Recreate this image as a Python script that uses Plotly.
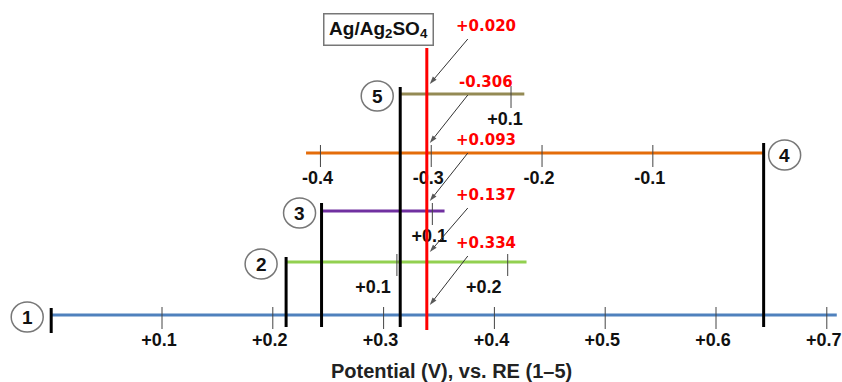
import plotly.graph_objects as go

# ---------------- data ----------------
electrodes = ["1", "2", "3", "4", "5"]
# position of each reference-electrode scale zero, in V vs RE 1
zero_vs_re1 = [0.0, 0.212, 0.244, 0.643, 0.315]
# extent of each scale, in V vs its own RE
scale_min = [0.0, 0.0, 0.0, -0.413, 0.0]
scale_max = [0.709, 0.217, 0.111, 0.0, 0.112]
tick_values = [
    [0.1, 0.2, 0.3, 0.4, 0.5, 0.6, 0.7],
    [0.1, 0.2],
    [0.1],
    [-0.4, -0.3, -0.2, -0.1],
    [0.1],
]
tick_labels = [
    ["+0.1", "+0.2", "+0.3", "+0.4", "+0.5", "+0.6", "+0.7"],
    ["+0.1", "+0.2"],
    ["+0.1"],
    ["-0.4", "-0.3", "-0.2", "-0.1"],
    ["+0.1"],
]
line_colors = ["#4F81BD", "#92D050", "#7030A0", "#E46C0A", "#948A54"]
ag_potential_vs_re1 = 0.339
ag_labels = ["+0.334", "+0.137", "+0.093", "-0.306", "+0.020"]  # vs RE 1..5
ref_name = "Ag/Ag<sub>2</sub>SO<sub>4</sub>"
axis_title = "Potential (V), vs. RE (1–5)"

# ---------------- layout helpers ----------------
W, H = 842, 382
PX_PER_V = 1108.0
X0_PX = 51.2
x_range = [-X0_PX / PX_PER_V, (W - X0_PX) / PX_PER_V]
px = 1.0 / PX_PER_V  # one pixel in V

row_y = [315, 262, 211, 153, 94]
bar_top = [308, 257, 203, 143, 87]
bar_bottom = [333, 327, 327, 327, 327]
tick_up, tick_down = 8, 14
tick_label_dy = 26
tick_label_dx = [-3, -24, -3, -3, -6]
circle_dx = [-24, -25, -22, 21, -23]
red_label_y = [243, 195, 140, 82, 26]

SANS = "Liberation Sans, Arial, sans-serif"
BLACK_FONT = dict(family=SANS, size=18, color="#111111")
RED_FONT = dict(family="DejaVu Sans, Verdana, sans-serif", size=15, color="#FF0000")

fig = go.Figure()

# coloured scale lines
for i, e in enumerate(electrodes):
    z = zero_vs_re1[i]
    fig.add_trace(go.Scatter(
        x=[z + scale_min[i], z + scale_max[i]], y=[row_y[i], row_y[i]],
        mode="lines", line=dict(color=line_colors[i], width=3),
        hoverinfo="skip", showlegend=False))

# tick marks
tx, ty = [], []
for i in range(len(electrodes)):
    z = zero_vs_re1[i]
    for v in tick_values[i]:
        tx += [z + v, z + v, None]
        ty += [row_y[i] - tick_up, row_y[i] + tick_down, None]
fig.add_trace(go.Scatter(x=tx, y=ty, mode="lines",
                         line=dict(color="#444444", width=1),
                         hoverinfo="skip", showlegend=False))

# tick labels
lx, ly, lt = [], [], []
for i in range(len(electrodes)):
    z = zero_vs_re1[i]
    for v, t in zip(tick_values[i], tick_labels[i]):
        lx.append(z + v + tick_label_dx[i] * px)
        ly.append(row_y[i] + tick_label_dy)
        lt.append("<b>" + t + "</b>")
fig.add_trace(go.Scatter(x=lx, y=ly, text=lt, mode="text",
                         textposition="middle center", textfont=BLACK_FONT,
                         hoverinfo="skip", showlegend=False))

# black zero bars
bx, by = [], []
for i in range(len(electrodes)):
    z = zero_vs_re1[i]
    bx += [z, z, None]
    by += [bar_top[i], bar_bottom[i], None]
fig.add_trace(go.Scatter(x=bx, y=by, mode="lines",
                         line=dict(color="#000000", width=3),
                         hoverinfo="skip", showlegend=False))

# red Ag/Ag2SO4 line
fig.add_trace(go.Scatter(x=[ag_potential_vs_re1, ag_potential_vs_re1], y=[48, 330],
                         mode="lines", line=dict(color="#FF0000", width=3),
                         hoverinfo="skip", showlegend=False))

# arrows from red labels to the red line on each scale
for i in range(len(electrodes)):
    fig.add_trace(go.Scatter(
        x=[ag_potential_vs_re1 + 41 * px, ag_potential_vs_re1 + 3 * px],
        y=[red_label_y[i] + 13, row_y[i] - 10],
        mode="lines+markers", line=dict(color="#333333", width=1),
        marker=dict(symbol="arrow", size=[0, 8], angleref="previous",
                    color="#111111", line=dict(width=0)),
        hoverinfo="skip", showlegend=False))

annotations = []
shapes = []

# circled electrode numbers
for i, e in enumerate(electrodes):
    cx = zero_vs_re1[i] + circle_dx[i] * px
    cy = row_y[i] + 2
    shapes.append(dict(type="circle", xref="x", yref="y",
                       x0=cx - 16 * px, x1=cx + 16 * px, y0=cy - 15, y1=cy + 15,
                       line=dict(color="#777777", width=1.5), fillcolor="rgba(0,0,0,0)"))
    annotations.append(dict(x=cx, y=cy, xref="x", yref="y", text="<b>" + e + "</b>",
                            showarrow=False,
                            font=dict(family=SANS, size=19, color="#111111")))

# red labels
label_x = ag_potential_vs_re1 + 59 * px
for i in range(len(electrodes)):
    annotations.append(dict(x=label_x, y=red_label_y[i], xref="x", yref="y",
                            text="<b>" + ag_labels[i] + "</b>", showarrow=False,
                            font=RED_FONT))

# Ag/Ag2SO4 box
annotations.append(dict(x=ag_potential_vs_re1 - 48 * px, y=29, xref="x", yref="y",
                        text="<b>" + ref_name + "</b>", showarrow=False,
                        font=dict(family=SANS, size=19, color="#111111"),
                        bordercolor="#777777", borderwidth=1.5, borderpad=2,
                        bgcolor="white", width=104, height=26))

# axis title
annotations.append(dict(x=(451.5 - X0_PX) * px, y=371, xref="x", yref="y",
                        text="<b>" + axis_title + "</b>", showarrow=False,
                        font=dict(family=SANS, size=20, color="#222222")))

fig.update_layout(
    width=W, height=H, autosize=False,
    margin=dict(l=0, r=0, t=0, b=0),
    paper_bgcolor="white", plot_bgcolor="white",
    xaxis=dict(range=x_range, visible=False, fixedrange=True),
    yaxis=dict(range=[H, 0], visible=False, fixedrange=True),
    shapes=shapes, annotations=annotations,
    hovermode=False, showlegend=False,
)

fig.write_html("out.html", config={"displayModeBar": False},
               post_script="document.body.style.margin='0';document.body.style.overflow='hidden';")
